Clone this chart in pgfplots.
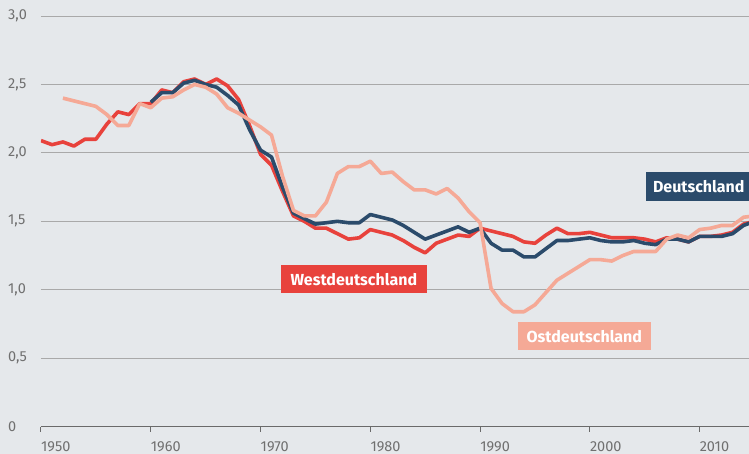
\documentclass[border=0pt]{standalone}
\usepackage{fontspec}
\setmainfont{Fira Sans}
\usepackage{pgfplots}
\pgfplotsset{compat=1.18}
\definecolor{bg}{HTML}{E5E8EB}
\definecolor{westred}{HTML}{E8423C}
\definecolor{deblue}{HTML}{2B4B6B}
\definecolor{ostsal}{HTML}{F5A996}
\definecolor{gridgray}{HTML}{A9A9A9}
\definecolor{axisgray}{HTML}{6A6A6A}
\definecolor{labgray}{HTML}{707070}
\begin{document}
\begin{tikzpicture}
\useasboundingbox (-41pt,-27.3pt) rectangle (708pt,426.7pt);
\fill[bg] (-41pt,-27.3pt) rectangle (708pt,426.7pt);
\clip (-41pt,-27.3pt) rectangle (708pt,426.7pt);
\begin{axis}[
  scale only axis, width=708pt, height=426.7pt,
  xmin=1950, xmax=2014.5, ymin=0, ymax=3.117,
  axis x line=bottom, axis y line=left,
  x axis line style={draw=axisgray, line width=1.5pt, -},
  y axis line style={draw=none},
  xtick={1950,1960,1970,1980,1990,2000,2010},
  xticklabels={1950,1960,1970,1980,1990,2000,2010},
  ytick={0,0.5,1,1.5,2,2.5,3},
  yticklabels={0,{0,5},{1,0},{1,5},{2,0},{2,5},{3,0}},
  xtick align=outside, ytick align=inside,
  major tick length=5pt,
  xtick style={draw=axisgray, line width=1pt},
  ytick style={draw=none},
  ymajorgrids, grid style={draw=gridgray, line width=1pt},
  tick label style={font=\fontsize{14.5}{14.5}\selectfont, text=labgray, inner sep=0pt},
  yticklabel style={anchor=west, xshift=-33pt},
  xticklabel style={anchor=north west, yshift=-9.5pt},
  line join=round,
]
\addplot[westred, line width=3.6pt] coordinates {
(1950,2.09)(1951,2.06)(1952,2.08)(1953,2.05)(1954,2.10)(1955,2.10)(1956,2.21)(1957,2.30)(1958,2.28)(1959,2.36)
(1960,2.36)(1961,2.46)(1962,2.44)(1963,2.52)(1964,2.54)(1965,2.50)(1966,2.54)(1967,2.49)(1968,2.39)(1969,2.20)
(1970,1.99)(1971,1.91)(1972,1.72)(1973,1.54)(1974,1.50)(1975,1.45)(1976,1.45)(1977,1.41)(1978,1.37)(1979,1.38)
(1980,1.44)(1981,1.42)(1982,1.40)(1983,1.36)(1984,1.31)(1985,1.27)(1986,1.34)(1987,1.37)(1988,1.40)(1989,1.39)
(1990,1.45)(1991,1.43)(1992,1.41)(1993,1.39)(1994,1.35)(1995,1.34)(1996,1.40)(1997,1.45)(1998,1.41)(1999,1.41)
(2000,1.42)(2001,1.40)(2002,1.38)(2003,1.38)(2004,1.38)(2005,1.37)(2006,1.35)(2007,1.38)(2008,1.37)(2009,1.35)
(2010,1.39)(2011,1.39)(2012,1.40)(2013,1.42)(2014,1.48)(2015,1.50)};
\addplot[deblue, line width=3.6pt] coordinates {
(1960,2.37)(1961,2.44)(1962,2.44)(1963,2.51)(1964,2.53)(1965,2.50)(1966,2.48)(1967,2.42)(1968,2.35)(1969,2.17)
(1970,2.02)(1971,1.97)(1972,1.75)(1973,1.56)(1974,1.52)(1975,1.48)(1976,1.49)(1977,1.50)(1978,1.49)(1979,1.49)
(1980,1.55)(1981,1.53)(1982,1.51)(1983,1.47)(1984,1.42)(1985,1.37)(1986,1.40)(1987,1.43)(1988,1.46)(1989,1.42)
(1990,1.45)(1991,1.34)(1992,1.29)(1993,1.29)(1994,1.24)(1995,1.24)(1996,1.30)(1997,1.36)(1998,1.36)(1999,1.37)
(2000,1.38)(2001,1.36)(2002,1.35)(2003,1.35)(2004,1.36)(2005,1.34)(2006,1.33)(2007,1.37)(2008,1.37)(2009,1.35)
(2010,1.39)(2011,1.39)(2012,1.39)(2013,1.41)(2014,1.47)(2015,1.50)};
\addplot[ostsal, line width=3.6pt] coordinates {
(1952,2.40)(1953,2.38)(1954,2.36)(1955,2.34)(1956,2.28)(1957,2.20)(1958,2.20)(1959,2.36)
(1960,2.33)(1961,2.40)(1962,2.41)(1963,2.46)(1964,2.50)(1965,2.48)(1966,2.43)(1967,2.33)(1968,2.29)(1969,2.24)
(1970,2.19)(1971,2.13)(1972,1.83)(1973,1.58)(1974,1.54)(1975,1.54)(1976,1.64)(1977,1.85)(1978,1.90)(1979,1.90)
(1980,1.94)(1981,1.85)(1982,1.86)(1983,1.79)(1984,1.73)(1985,1.73)(1986,1.70)(1987,1.74)(1988,1.67)(1989,1.57)
(1990,1.49)(1991,1.01)(1992,0.90)(1993,0.84)(1994,0.84)(1995,0.89)(1996,0.98)(1997,1.07)(1998,1.12)(1999,1.17)
(2000,1.22)(2001,1.22)(2002,1.21)(2003,1.25)(2004,1.28)(2005,1.28)(2006,1.28)(2007,1.37)(2008,1.40)(2009,1.38)
(2010,1.44)(2011,1.45)(2012,1.47)(2013,1.47)(2014,1.53)(2015,1.54)};
\node[fill=westred, text=white, font=\bfseries\fontsize{16}{16}\selectfont, minimum height=28.3pt, minimum width=145.7pt, inner sep=0pt] at (axis cs:1978.5,1.077) {Westdeutschland};
\node[fill=ostsal, text=white, font=\bfseries\fontsize{16}{16}\selectfont, minimum height=28.3pt, minimum width=133.7pt, inner sep=0pt] at (axis cs:1999.5,0.661) {Ostdeutschland};
\node[fill=deblue, text=white, font=\bfseries\fontsize{16}{16}\selectfont, minimum height=29pt, inner xsep=7pt, inner ysep=0pt, anchor=west] at (axis cs:2005.1,1.757) {Deutschland};
\end{axis}
\end{tikzpicture}
\end{document}
